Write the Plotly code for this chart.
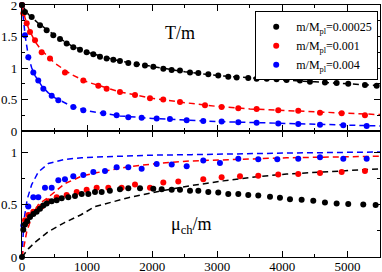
import plotly.graph_objects as go
from plotly.subplots import make_subplots

# ---------------- data ----------------
# top panel: T/m
t_black_x = [0, 46, 149, 277, 379, 481, 584, 686, 788, 891, 993, 1096, 1198, 1300, 1403, 1505, 1633, 1760, 1889, 2017,
             2171, 2299, 2427, 2581, 2709, 2862, 3015, 3169, 3298, 3476, 3605, 3760, 3911, 4065, 4270, 4424, 4654,
             4834, 5012, 5269, 5449]
t_black_y = [2.0, 1.89, 1.81, 1.68, 1.60, 1.52, 1.46, 1.39, 1.33, 1.29, 1.25, 1.22, 1.18, 1.15, 1.13, 1.11, 1.08, 1.06,
             1.04, 1.02, 0.99, 0.97, 0.96, 0.93, 0.92, 0.90, 0.88, 0.86, 0.85, 0.84, 0.83, 0.83, 0.82, 0.81, 0.80,
             0.78, 0.77, 0.76, 0.75, 0.73, 0.72]
t_black_fit_x = [0, 100, 250, 500, 750, 1000, 1500, 2000, 2500, 3000, 3500, 4000, 4500, 5000, 5500]
t_black_fit_y = [2.0, 1.85, 1.71, 1.52, 1.36, 1.25, 1.11, 1.02, 0.94, 0.88, 0.84, 0.81, 0.78, 0.75, 0.72]

t_red_x = [0, 20, 72, 123, 200, 302, 430, 660, 942, 1172, 1300, 1505, 1736, 1966, 2170, 2427, 2811, 3067, 3323,
           3605, 3937, 4244, 4578, 4911, 5269]
t_red_y = [2.0, 1.87, 1.71, 1.57, 1.44, 1.25, 1.15, 0.93, 0.80, 0.72, 0.67, 0.62, 0.57, 0.52, 0.50, 0.46, 0.41, 0.38,
           0.36, 0.35, 0.33, 0.32, 0.29, 0.28, 0.25]
t_red_fit_x = [0, 50, 100, 200, 300, 500, 750, 1000, 1500, 2000, 2500, 3000, 3500, 4000, 4500, 5000, 5500]
t_red_fit_y = [2.0, 1.78, 1.63, 1.42, 1.28, 1.08, 0.90, 0.78, 0.62, 0.52, 0.45, 0.39, 0.35, 0.33, 0.30, 0.28, 0.26]

t_blue_x = [0, 46, 97, 174, 250, 328, 456, 558, 788, 942, 1249, 1454, 1633, 1838, 2069, 2273, 2530, 2785, 3067, 3323,
            3605, 3937, 4244, 4578, 4936, 5295]
t_blue_y = [2.0, 1.52, 1.17, 0.93, 0.80, 0.67, 0.56, 0.49, 0.38, 0.33, 0.28, 0.25, 0.22, 0.21, 0.20, 0.19, 0.17, 0.16,
            0.15, 0.14, 0.13, 0.12, 0.11, 0.10, 0.09, 0.08]
t_blue_fit_x = [0, 25, 50, 100, 150, 200, 300, 400, 500, 750, 1000, 1500, 2000, 3000, 4000, 5000, 5500]
t_blue_fit_y = [2.0, 1.75, 1.5, 1.17, 1.0, 0.88, 0.72, 0.61, 0.53, 0.40, 0.32, 0.24, 0.20, 0.15, 0.12, 0.09, 0.08]

# bottom panel: mu_ch/m
m_black_x = [0, 20, 46, 80, 123, 174, 225, 276, 328, 379, 456, 533, 610, 712, 814, 917, 1019, 1121, 1224, 1350, 1505,
             1633, 1813, 2017, 2146, 2300, 2427, 2581, 2709, 2862, 3015, 3169, 3323, 3476, 3630, 3810, 3963, 4117,
             4296, 4475, 4654, 4834, 5012, 5243, 5433]
m_black_y = [0.0, 0.26, 0.31, 0.34, 0.38, 0.41, 0.43, 0.46, 0.49, 0.51, 0.53, 0.54, 0.56, 0.57, 0.58, 0.60, 0.60,
             0.62, 0.62, 0.63, 0.645, 0.655, 0.655, 0.65, 0.645, 0.64, 0.64, 0.63, 0.63, 0.62, 0.615, 0.60, 0.60,
             0.59, 0.585, 0.575, 0.565, 0.55, 0.545, 0.535, 0.52, 0.51, 0.505, 0.50, 0.495]
m_black_fit_x = [0, 50, 100, 200, 400, 660, 900, 1121, 1633, 2146, 2600, 3092, 3605, 4066, 4552, 5064, 5500]
m_black_fit_y = [0.0, 0.04, 0.08, 0.14, 0.24, 0.33, 0.40, 0.48, 0.565, 0.63, 0.68, 0.725, 0.765, 0.79, 0.805, 0.82,
                 0.84]

m_red_x = [46, 97, 174, 251, 302, 405, 533, 686, 840, 993, 1147, 1326, 1531, 1736, 1966, 2171, 2401, 2785, 3067, 3349,
           3630, 3937, 4244, 4578, 4911, 5269]
m_red_y = [0.35, 0.40, 0.43, 0.46, 0.48, 0.53, 0.57, 0.59, 0.62, 0.64, 0.66, 0.66, 0.66, 0.69, 0.66, 0.71, 0.72, 0.74,
           0.76, 0.77, 0.775, 0.785, 0.79, 0.80, 0.81, 0.82]
m_red_fit_x = [0, 72, 149, 251, 405, 660, 917, 1121, 1633, 2146, 2607, 3092, 4066, 5500]
m_red_fit_y = [0.0, 0.24, 0.38, 0.50, 0.57, 0.70, 0.77, 0.80, 0.86, 0.895, 0.915, 0.925, 0.945, 0.96]

m_blue_x = [20, 97, 174, 251, 353, 456, 558, 660, 788, 942, 1096, 1275, 1454, 1633, 1838, 2069, 2300, 2530, 2785,
            3041, 3323, 3630, 3922, 4244, 4578, 4936, 5295]
m_blue_y = [0.30, 0.48, 0.57, 0.57, 0.66, 0.66, 0.73, 0.74, 0.77, 0.78, 0.81, 0.82, 0.855, 0.855, 0.84, 0.885, 0.88,
            0.865, 0.92, 0.895, 0.935, 0.93, 0.93, 0.935, 0.95, 0.935, 0.935]
m_blue_fit_x = [0, 30, 80, 149, 251, 405, 660, 917, 1275, 2000, 2607, 3500, 4066, 5500]
m_blue_fit_y = [0.0, 0.35, 0.55, 0.69, 0.81, 0.89, 0.93, 0.945, 0.955, 0.97, 0.975, 0.985, 0.99, 1.0]

legend_names = ["m/M<sub>pl</sub>=0.00025", "m/M<sub>pl</sub>=0.001", "m/M<sub>pl</sub>=0.004"]
colors = ["#000000", "#ff0000", "#0000ff"]

# ---------------- figure ----------------
FONT = "Liberation Serif"
fig = make_subplots(rows=2, cols=1, shared_xaxes=True, vertical_spacing=0)

series_top = [(t_black_x, t_black_y, t_black_fit_x, t_black_fit_y),
              (t_red_x, t_red_y, t_red_fit_x, t_red_fit_y),
              (t_blue_x, t_blue_y, t_blue_fit_x, t_blue_fit_y)]
series_bot = [(m_black_x, m_black_y, m_black_fit_x, m_black_fit_y),
              (m_red_x, m_red_y, m_red_fit_x, m_red_fit_y),
              (m_blue_x, m_blue_y, m_blue_fit_x, m_blue_fit_y)]

dash = "6px,4px"
for row, series in ((1, series_top), (2, series_bot)):
    for i in (2, 1, 0):
        px, py, fx, fy = series[i]
        fig.add_trace(go.Scatter(x=fx, y=fy, mode="lines", line=dict(color=colors[i], width=1.5, dash=dash),
                                 showlegend=False, hoverinfo="skip", cliponaxis=True), row=row, col=1)
    for i in (2, 1, 0):
        px, py, fx, fy = series[i]
        fig.add_trace(go.Scatter(x=px, y=py, mode="markers", marker=dict(color=colors[i], size=6),
                                 name=legend_names[i], showlegend=(row == 1), legendrank=i + 1,
                                 cliponaxis=False),
                      row=row, col=1)

axis_common = dict(showline=True, linecolor="black", linewidth=1.2, mirror="allticks", ticks="inside",
                   ticklen=6, tickwidth=1, tickcolor="black", showgrid=False, zeroline=False, automargin=False,
                   ticklabeloverflow="allow", tickfont=dict(family=FONT, size=13, color="black"))

fig.update_xaxes(range=[0, 5500], dtick=1000, tick0=0, ticklabelstandoff=-3,
                 minor=dict(dtick=500, ticks="inside", ticklen=3, tickcolor="black"), **axis_common)
fig.update_xaxes(showticklabels=False, row=1, col=1)
fig.update_yaxes(range=[0, 2], tickvals=[0, 0.5, 1, 1.5, 2], ticktext=["0", "0.5", "1", "1.5", "2"],
                 minor=dict(dtick=0.25, ticks="inside", ticklen=3, tickcolor="black"), row=1, col=1,
                 ticklabelstandoff=1, **axis_common)
fig.update_yaxes(range=[0, 1.2], tickvals=[0, 0.5, 1], ticktext=["0", "0.5", "1"],
                 minor=dict(dtick=0.25, ticks="inside", ticklen=3, tickcolor="black"), row=2, col=1,
                 ticklabelstandoff=1, **axis_common)

fig.add_annotation(x=2430, y=1.55, xref="x", yref="y", text="T/m", showarrow=False,
                   font=dict(family=FONT, size=18, color="black"))
fig.add_annotation(x=2610, y=0.3, xref="x2", yref="y2", text="μ<sub>ch</sub>/m", showarrow=False,
                   font=dict(family=FONT, size=18, color="black"))

fig.update_layout(
    width=382, height=272,
    margin=dict(l=22, r=2, t=5, b=15),
    paper_bgcolor="white", plot_bgcolor="white",
    font=dict(family=FONT, size=12, color="black"),
    legend=dict(x=0.995, xanchor="right", y=0.975, yanchor="top", bgcolor="white", bordercolor="black",
                borderwidth=1, font=dict(family=FONT, size=12, color="black"), itemwidth=30,
                tracegroupgap=0),
)

fig.write_html("out.html", config={"displayModeBar": False},
               post_script="document.body.style.margin='0';document.body.style.padding='0';")
